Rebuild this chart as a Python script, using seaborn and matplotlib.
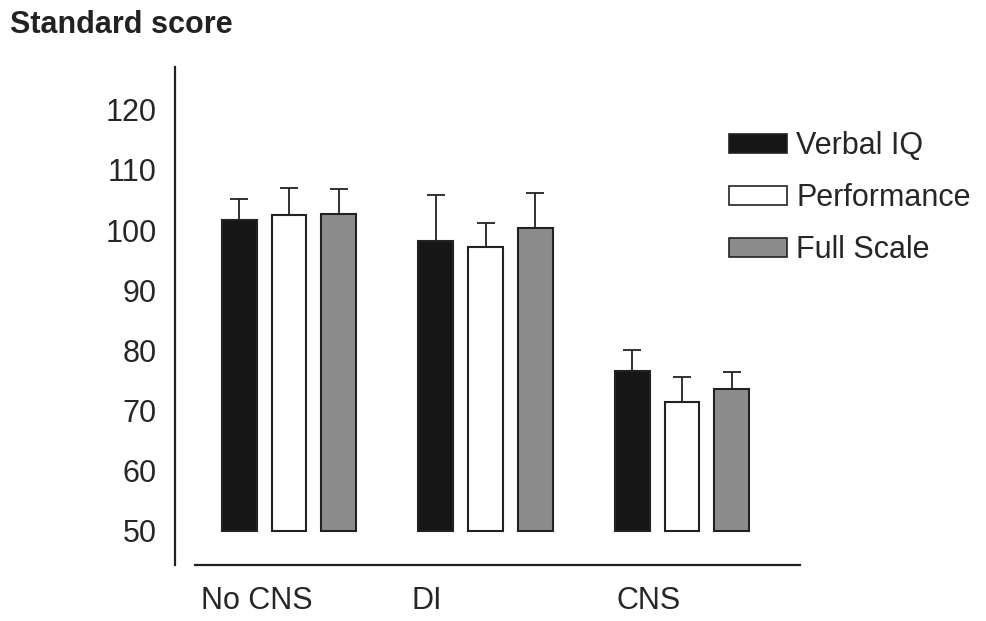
import numpy as np
import pandas as pd
import matplotlib
matplotlib.use("Agg")
import matplotlib.pyplot as plt
from matplotlib.patches import Patch
import seaborn as sns

# Values
groups = ["No CNS", "DI", "CNS"]
measures = ["Verbal IQ", "Performance", "Full Scale"]
verbal = [101.6, 98.2, 76.6]
performance = [102.5, 97.2, 71.5]
full_scale = [102.7, 100.3, 73.6]
verbal_err = [3.6, 7.6, 3.5]
performance_err = [4.5, 4.0, 4.1]
full_scale_err = [4.1, 5.9, 2.8]
baseline = 50
y_ticks = [50, 60, 70, 80, 90, 100, 110, 120]

# Build a long table for seaborn
rows = []
for measure, vals, errs in zip(measures, [verbal, performance, full_scale],
                               [verbal_err, performance_err, full_scale_err]):
    for g, v, e in zip(groups, vals, errs):
        rows.append({"group": g, "measure": measure, "score": v, "err": e})
df = pd.DataFrame(rows)
df["height"] = df["score"] - baseline

sns.set_style("white")
plt.rcParams["font.family"] = ["Liberation Sans", "DejaVu Sans"]

fig = plt.figure(figsize=(9.87, 6.21), dpi=100)
ax = fig.add_axes([0.1773, 0.0902, 0.6332, 0.8019])

palette = {"Verbal IQ": "#161616", "Performance": "#ffffff", "Full Scale": "#8c8c8c"}
edge = "#222222"
sns.barplot(data=df, x="group", y="height", hue="measure", order=groups,
            hue_order=measures, palette=palette, width=0.76, gap=0.3,
            errorbar=None, bottom=baseline, edgecolor=edge, linewidth=1.5,
            saturation=1, legend=False, ax=ax)

# One-sided error bars on top of each bar
tops = df.set_index(["measure", "group"])
i = 0
for measure in measures:
    for g in groups:
        p = ax.patches[i]
        i += 1
        cx = p.get_x() + p.get_width() / 2
        top = p.get_y() + p.get_height()
        err = tops.loc[(measure, g), "err"]
        ax.errorbar(cx, top, yerr=[[0], [err]], fmt="none", ecolor=edge,
                    elinewidth=1.3, capsize=6.5, capthick=1.3, zorder=1)

ax.set_ylim(44.35, 127.1)
ax.set_xlim(-0.58, 2.6)
ax.set_yticks(y_ticks)
ax.set_yticklabels([str(t) for t in y_ticks], fontsize=22)
ax.set_xticks([-0.165, 0.70, 1.832])
ax.set_xticklabels(groups, fontsize=22)
ax.tick_params(axis="both", length=0)
ax.tick_params(axis="y", pad=13)
ax.tick_params(axis="x", pad=15)
ax.set_xlabel("")
ax.set_ylabel("")

sns.despine(ax=ax)
for side in ["left", "bottom"]:
    ax.spines[side].set_color(edge)
    ax.spines[side].set_linewidth(1.6)
ax.spines["bottom"].set_bounds(-0.478, 2.6)

handles = [Patch(facecolor=palette[m], edgecolor=edge, linewidth=1.2) for m in measures]
fig.legend(handles, measures, loc="upper left", bbox_to_anchor=(0.7386, 0.789),
           frameon=False, fontsize=22, handlelength=1.9, handleheight=0.56,
           handletextpad=0.3, labelspacing=0.72, borderpad=0, borderaxespad=0)

fig.text(10 / 987, 1 - 25 / 621, "Standard score", fontsize=22,
         fontweight="bold", va="center", ha="left", color=edge)

fig.savefig("out.png", dpi=100)
